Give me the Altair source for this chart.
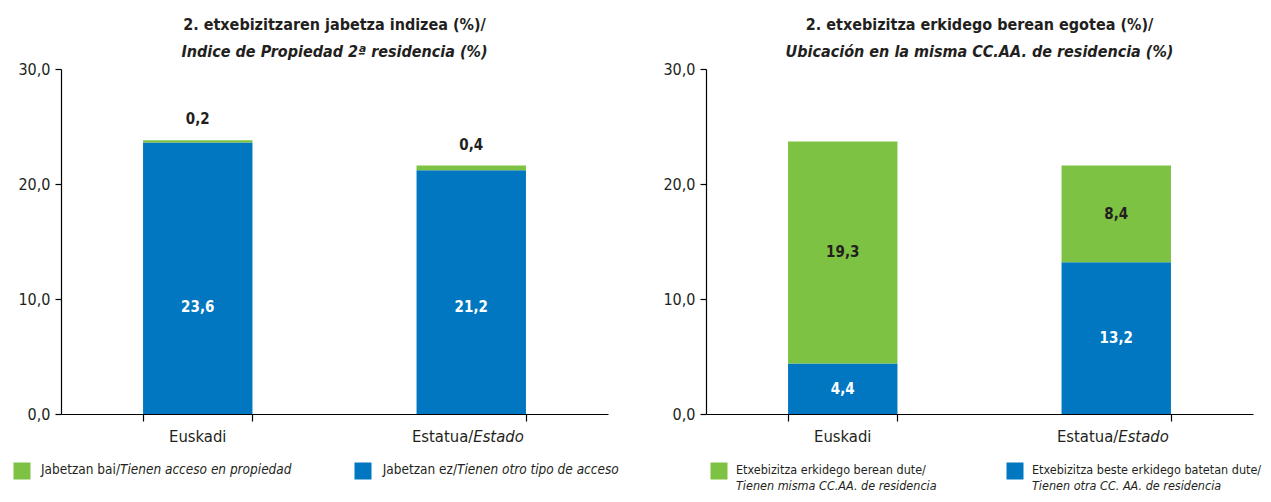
import altair as alt
import pandas as pd

FONT = "Liberation Sans Narrow, DejaVu Sans Condensed, sans-serif"
BLUE = "#0077C0"
GREEN = "#7DC242"
DARK = "#231F20"

categories = ["Euskadi", "Estatua/Estado"]

# Left panel
left_series = ["Jabetzan ez", "Jabetzan bai"]
left_blue = [23.6, 21.2]
left_green = [0.2, 0.4]

# Right panel
right_series = ["Beste erkidegoa", "Erkidego berean"]
right_blue = [4.4, 13.2]
right_green = [19.3, 8.4]

y_ticks = [0, 10, 20, 30]

W, H = 547, 345


def make_df(blue, green, series):
    rows = []
    for i, c in enumerate(categories):
        rows.append({"cat": c, "series": series[0], "value": blue[i], "ord": 0})
        rows.append({"cat": c, "series": series[1], "value": green[i], "ord": 1})
    return pd.DataFrame(rows)


FMT = "replace(format(datum.value, '.1f'), '.', ',')"


def panel(df, series, title, subtitle, left_labels_fixed, legend_items, legend_size):
    base = alt.Chart(df).transform_stack(
        stack="value", groupby=["cat"], sort=[alt.SortField("ord")], as_=["y0", "y1"]
    ).transform_calculate(
        mid="(datum.y0 + datum.y1) / 2",
        label=FMT,
    )

    xenc = alt.X(
        "cat:N",
        sort=categories,
        scale=alt.Scale(paddingInner=0.6, paddingOuter=0.3),
        axis=alt.Axis(
            labels=False, title=None, tickBand="extent", domainColor="black",
            tickColor="black", tickSize=7, domainWidth=1.2, tickWidth=1.2,
        ),
    )
    yscale = alt.Scale(domain=[0, 30])

    bars = base.mark_bar().encode(
        x=xenc,
        y=alt.Y(
            "y0:Q", scale=yscale,
            axis=alt.Axis(
                values=y_ticks, labelExpr=FMT, grid=False, title=None, tickSize=6,
                domainColor="black", tickColor="black", labelFont=FONT, labelFontSize=16,
                labelColor=DARK, minExtent=45, labelPadding=5, domainWidth=1.2, tickWidth=1.2,
            ),
        ),
        y2="y1:Q",
        color=alt.Color("series:N", scale=alt.Scale(domain=series, range=[BLUE, GREEN]), legend=None),
    )

    layers = [bars]
    blue_base = base.transform_filter(alt.datum.ord == 0)
    green_base = base.transform_filter(alt.datum.ord == 1)
    tstyle = dict(font=FONT, fontSize=15, fontWeight="bold", baseline="middle")
    if left_labels_fixed:
        layers.append(blue_base.mark_text(color="white", **tstyle).encode(
            x=alt.X("cat:N", sort=categories), y=alt.datum(9.3), text="label:N"))
        layers.append(green_base.mark_text(color=DARK, dy=-21, **tstyle).encode(
            x=alt.X("cat:N", sort=categories), y="y1:Q", text="label:N"))
    else:
        layers.append(blue_base.mark_text(color="white", **tstyle).encode(
            x=alt.X("cat:N", sort=categories), y="mid:Q", text="label:N"))
        layers.append(green_base.mark_text(color=DARK, **tstyle).encode(
            x=alt.X("cat:N", sort=categories), y="mid:Q", text="label:N"))

    # category labels (mixed style)
    cat_df = pd.DataFrame({"cat": categories, "p1": ["Euskadi", "Estatua/"], "p2": ["", "Estado"]})
    cbase = alt.Chart(cat_df)
    lstyle = dict(font=FONT, fontSize=16.5, color=DARK, baseline="middle")
    layers.append(cbase.transform_filter(alt.datum.p2 == "").mark_text(align="center", **lstyle).encode(
        x=alt.X("cat:N", sort=categories), y=alt.value(H + 23), text="p1:N"))
    layers.append(cbase.transform_filter(alt.datum.p2 != "").mark_text(align="right", dx=2, **lstyle).encode(
        x=alt.X("cat:N", sort=categories), y=alt.value(H + 23), text="p1:N"))
    layers.append(cbase.transform_filter(alt.datum.p2 != "").mark_text(align="left", dx=2, fontStyle="italic", **lstyle).encode(
        x=alt.X("cat:N", sort=categories), y=alt.value(H + 23), text="p2:N"))

    # custom legend
    for item in legend_items:
        ldf = pd.DataFrame({"a": [item["normal"]], "b": [item["italic"]], "c": [item.get("line2", "")]})
        lc = alt.Chart(ldf)
        layers.append(lc.mark_square(size=289, opacity=1, color=item["color"]).encode(
            x=alt.value(item["sq"]), y=alt.value(H + 57)))
        gs = dict(font=FONT, fontSize=legend_size, color=DARK, baseline="middle")
        if item.get("line2"):
            layers.append(lc.mark_text(align="left", **gs).encode(
                x=alt.value(item["tx"]), y=alt.value(H + 56), text="a:N"))
            layers.append(lc.mark_text(align="left", fontStyle="italic", **gs).encode(
                x=alt.value(item["tx"]), y=alt.value(H + 72), text="c:N"))
        else:
            layers.append(lc.mark_text(align="right", **gs).encode(
                x=alt.value(item["junc"]), y=alt.value(H + 56), text="a:N"))
            layers.append(lc.mark_text(align="left", fontStyle="italic", **gs).encode(
                x=alt.value(item["junc"]), y=alt.value(H + 56), text="b:N"))

    return alt.layer(*layers).properties(
        width=W, height=H,
        title=alt.TitleParams(
            text=title, subtitle=subtitle, font=FONT, fontSize=16, fontWeight="bold",
            color=DARK, subtitleFont=FONT, subtitleFontSize=16, subtitleFontStyle="italic",
            subtitleFontWeight="bold", subtitleColor=DARK, anchor="middle",
            subtitlePadding=11, offset=1,
        ),
    )


left = panel(
    make_df(left_blue, left_green, left_series), left_series,
    "2. etxebizitzaren jabetza indizea (%)/", "Indice de Propiedad 2ª residencia (%)", True,
    [
        {"color": GREEN, "sq": -39, "junc": 59, "normal": "Jabetzan bai/", "italic": "Tienen acceso en propiedad"},
        {"color": BLUE, "sq": 302, "junc": 396, "normal": "Jabetzan ez/", "italic": "Tienen otro tipo de acceso"},
    ],
    13.5,
)
right = panel(
    make_df(right_blue, right_green, right_series), right_series,
    "2. etxebizitza erkidego berean egotea (%)/", "Ubicación en la misma CC.AA. de residencia (%)", False,
    [
        {"color": GREEN, "sq": 13, "tx": 30, "normal": "Etxebizitza erkidego berean dute/", "italic": "", "line2": "Tienen misma CC.AA. de residencia"},
        {"color": BLUE, "sq": 309, "tx": 326, "normal": "Etxebizitza beste erkidego batetan dute/", "italic": "", "line2": "Tienen otra CC. AA. de residencia"},
    ],
    12.5,
)

chart = alt.hconcat(left, right, spacing=98, bounds="flush").properties(
    padding={"left": 5, "top": 9, "right": 0, "bottom": 0}
).configure_view(stroke=None)
chart.save("out.html", embed_options={"renderer": "svg", "actions": False})
